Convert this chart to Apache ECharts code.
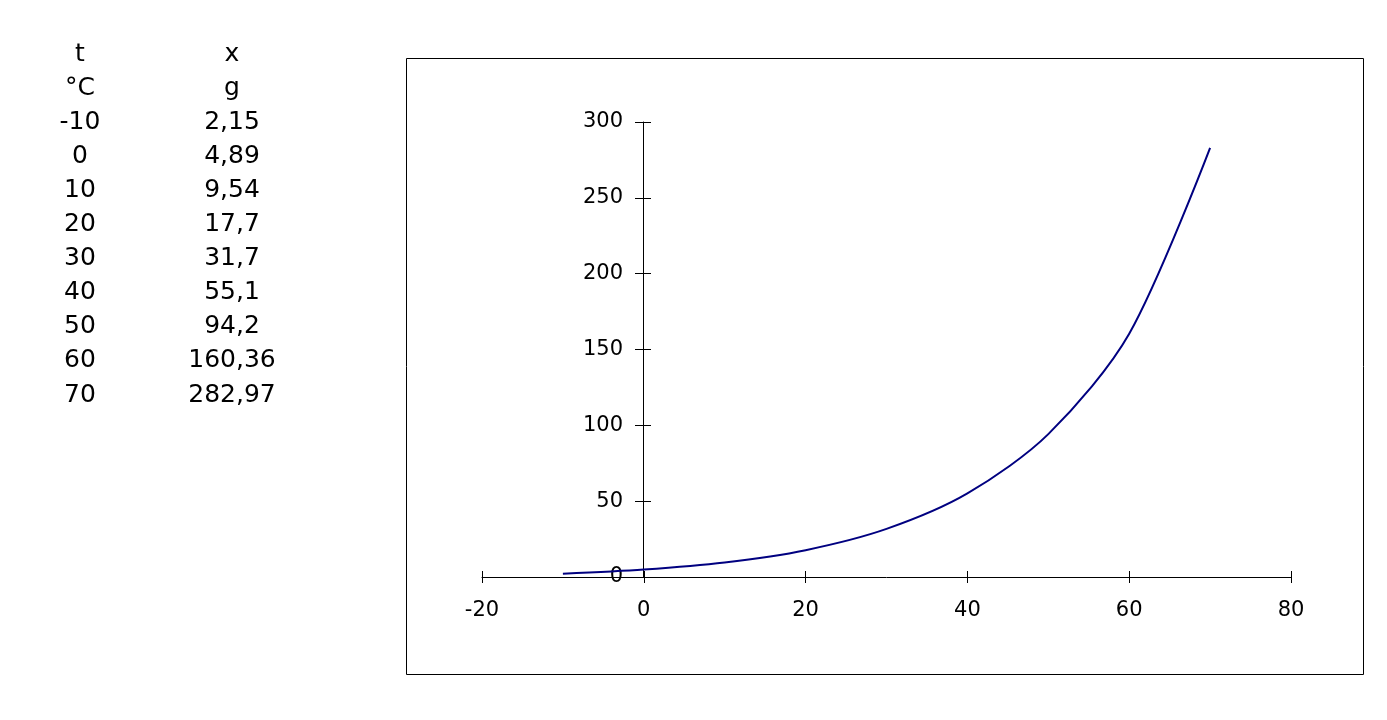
<!DOCTYPE html>
<html>
<head>
<meta charset="utf-8">
<script src="https://cdn.jsdelivr.net/npm/echarts@6/dist/echarts.min.js"></script>
<style>
  html, body { margin: 0; padding: 0; background: #fff; }
  #main { width: 1387px; height: 720px; }
</style>
</head>
<body>
<div id="main"></div>
<script>
// table / series data
let tempHead = ['t', '°C'];
let massHead = ['x', 'g'];
let temps = [-10, 0, 10, 20, 30, 40, 50, 60, 70];
let masses = [2.15, 4.89, 9.54, 17.7, 31.7, 55.1, 94.2, 160.36, 282.97];

let FONT = 'DejaVu Sans';
let ROW0 = 54;
let ROW_GAP = 34.1;

let chart = echarts.init(document.getElementById('main'));

function fmt(v) {
  return String(v).replace('.', ',');
}

// left-hand table as graphic text
let tableText = [];
let colT = tempHead.concat(temps.map(String));
let colX = massHead.concat(masses.map(fmt));
for (let i = 0; i < colT.length; i++) {
  tableText.push({
    type: 'text', x: 80, y: ROW0 + i * ROW_GAP,
    style: { text: colT[i], font: '25px ' + FONT, fill: '#000', align: 'center', verticalAlign: 'middle' }
  });
  tableText.push({
    type: 'text', x: 232, y: ROW0 + i * ROW_GAP,
    style: { text: colX[i], font: '25px ' + FONT, fill: '#000', align: 'center', verticalAlign: 'middle' }
  });
}

let axisFont = { fontFamily: FONT, fontSize: 21, color: '#000' };
let Y_OFFSET = -161;

let option = {
  backgroundColor: '#fff',
  animation: false,
  grid: { left: 482, top: 122, width: 809, height: 455 },
  xAxis: [
    {
      type: 'value', min: -20, max: 80, interval: 20,
      axisLine: { show: true, lineStyle: { color: '#000', width: 1 } },
      axisTick: { show: true, length: 6, lineStyle: { color: '#000' } },
      axisLabel: Object.assign({ margin: 23 }, axisFont),
      splitLine: { show: false }
    },
    {
      type: 'value', min: -20, max: 80, interval: 20, position: 'bottom',
      axisLine: { show: false },
      axisTick: { show: true, inside: true, length: 6, lineStyle: { color: '#000' } },
      axisLabel: { show: false },
      splitLine: { show: false }
    }
  ],
  yAxis: [
    {
      type: 'value', min: 0, max: 300, interval: 50, position: 'left', offset: Y_OFFSET,
      axisLine: { show: true, onZero: false, lineStyle: { color: '#000', width: 1 } },
      axisTick: { show: true, length: 8, lineStyle: { color: '#000' } },
      axisLabel: Object.assign({ margin: 20 }, axisFont),
      splitLine: { show: false }
    },
    {
      type: 'value', min: 0, max: 300, interval: 50, position: 'left', offset: Y_OFFSET,
      axisLine: { show: false, onZero: false },
      axisTick: { show: true, inside: true, length: 8, lineStyle: { color: '#000' } },
      axisLabel: { show: false },
      splitLine: { show: false }
    }
  ],
  graphic: [
    {
      type: 'rect', shape: { x: 406.5, y: 58.5, width: 957, height: 616 },
      style: { fill: 'none', stroke: '#000', lineWidth: 1 }, z: -1
    }
  ].concat(tableText),
  series: [
    {
      type: 'line',
      data: temps.map((t, i) => [t, masses[i]]),
      smooth: 0.3,
      showSymbol: false,
      lineStyle: { color: '#000080', width: 2 }
    }
  ]
};
chart.setOption(option);
</script>
</body>
</html>
